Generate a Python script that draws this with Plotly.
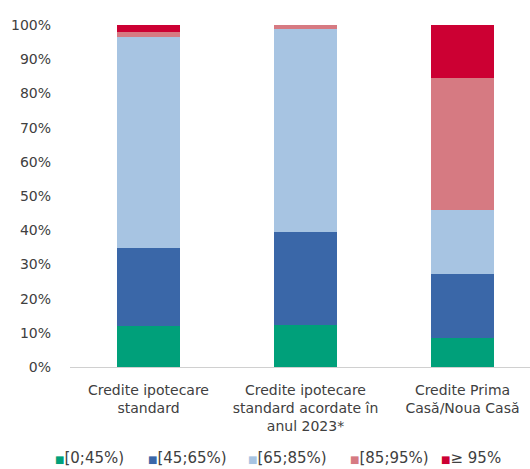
import plotly.graph_objects as go

categories = [
    "Credite ipotecare<br>standard",
    "Credite ipotecare<br>standard acordate în<br>anul 2023*",
    "Credite Prima<br>Casă/Noua Casă",
]
series_names = ["[0;45%)", "[45;65%)", "[65;85%)", "[85;95%)", "≥ 95%"]
s_0_45 = [12.0, 12.3, 8.4]
s_45_65 = [22.8, 27.3, 18.8]
s_65_85 = [61.7, 59.1, 18.7]
s_85_95 = [1.5, 1.3, 38.5]
s_95 = [2.0, 0.0, 15.6]
colors = ["#00A07A", "#3A67A8", "#A7C4E2", "#D67A82", "#CC0033"]
tick_vals = [0, 10, 20, 30, 40, 50, 60, 70, 80, 90, 100]
tick_text = [f"{v}%" for v in tick_vals]

fig = go.Figure()
for name, vals, col in zip(series_names, [s_0_45, s_45_65, s_65_85, s_85_95, s_95], colors):
    fig.add_trace(go.Bar(x=list(range(len(categories))), y=vals, name=name,
                         marker=dict(color=col, line=dict(width=0)), showlegend=False))

# compact legend row: small coloured square directly before each label
legend_x = [-0.035, 0.167, 0.384, 0.606, 0.804]
for name, col, lx in zip(series_names, colors, legend_x):
    fig.add_annotation(
        x=lx, y=-0.266, xref="paper", yref="paper", xanchor="left", yanchor="middle",
        showarrow=False, borderpad=0,
        text=f'<span style="color:{col};font-size:10px">■</span>{name}',
        font=dict(size=15),
    )

font_family = "DejaVu Sans, sans-serif"
fig.update_layout(
    width=530, height=469,
    barmode="stack", bargap=0.605,
    margin=dict(l=70, r=0, t=25, b=102),
    plot_bgcolor="white", paper_bgcolor="white",
    font=dict(family=font_family, color="#404040", size=14),
    xaxis=dict(tickmode="array", tickvals=list(range(len(categories))), ticktext=categories,
               range=[-0.5, 2.43], showline=True, linecolor="#D0D0D0", linewidth=1,
               ticks="", showgrid=False, tickfont=dict(size=14), ticklabelstandoff=10),
    yaxis=dict(tickmode="array", tickvals=tick_vals, ticktext=tick_text, range=[0, 100],
               showgrid=False, zeroline=False, showline=False, ticks="",
               tickfont=dict(size=14), ticklabelstandoff=18),
    showlegend=False,
)

fig.write_html("out.html")
